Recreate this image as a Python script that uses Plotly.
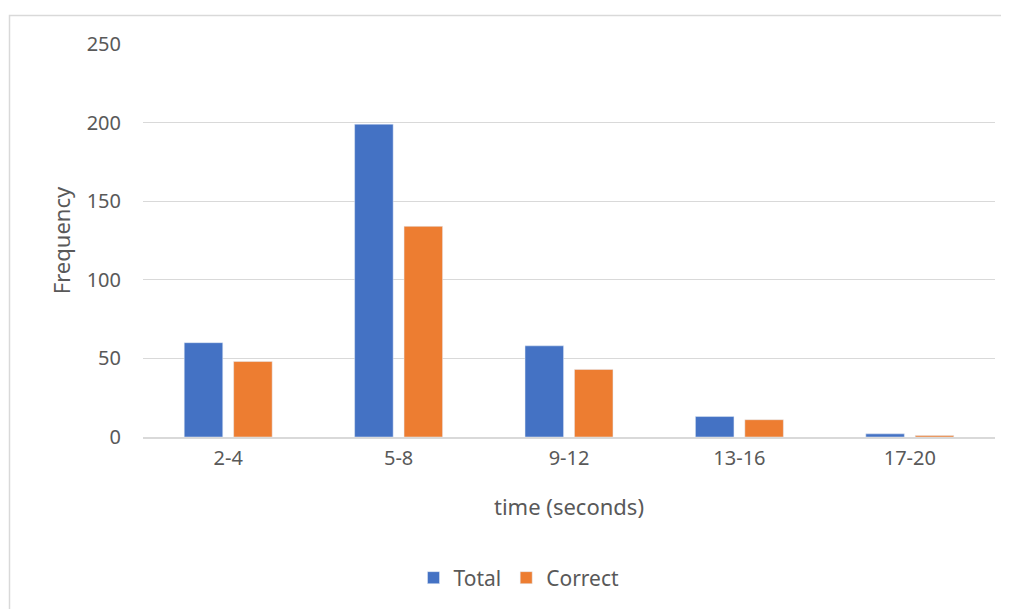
import plotly.graph_objects as go

categories = ["2-4", "5-8", "9-12", "13-16", "17-20"]
total = [60, 199, 58, 13, 2]
correct = [48, 134, 43, 11, 1]
y_ticks = [0, 50, 100, 150, 200, 250]

OFF = 8  # page body margin
W, H = 1009 - OFF, 609 - OFF
L, R, T, B = 143 - OFF, 14, 44 - OFF, 172
pw, ph = W - L - R, H - T - B

def px(x):
    return (x - OFF - L) / pw

def py(y):
    return (H - B - (y - OFF)) / ph

font = "Noto Sans, Open Sans, sans-serif"
fig = go.Figure()
fig.add_trace(go.Bar(x=categories, y=total, name="Total", marker_color="#4472c4"))
fig.add_trace(go.Bar(x=categories, y=correct, name="Correct", marker_color="#ed7d31"))

fig.update_layout(
    width=W, height=H,
    margin=dict(l=L, r=R, t=T, b=B, autoexpand=False),
    paper_bgcolor="white", plot_bgcolor="white",
    barmode="group", bargap=0.42, bargroupgap=0.22,
    font=dict(family=font, size=20, color="#595959"),
    showlegend=True,
    legend=dict(orientation="h", x=px(519), y=py(578), xanchor="center", yanchor="middle",
                font=dict(size=21, color="#595959"), itemwidth=30, traceorder="normal"),
    shapes=[dict(type="rect", xref="paper", yref="paper",
                 x0=px(9.5), x1=px(1015), y0=py(15.5), y1=py(620),
                 line=dict(color="#d9d9d9", width=1.5), fillcolor="rgba(0,0,0,0)", layer="below")],
)
fig.update_yaxes(range=[0, 250], tickvals=y_ticks, showgrid=True, gridcolor="#d9d9d9",
                 gridwidth=1, zeroline=False, showline=False, ticks="",
                 tickfont=dict(size=20, color="#595959"), ticklabelstandoff=21,
                 title=dict(text="Frequency", font=dict(size=22, color="#595959"), standoff=9))
fig.update_xaxes(showgrid=False, showline=True, linecolor="#d9d9d9", linewidth=2,
                 ticks="", tickfont=dict(size=20, color="#595959"), ticklabelstandoff=2,
                 title=dict(text="time (seconds)", font=dict(size=22, color="#595959"), standoff=30))

fig.write_html("out.html")
